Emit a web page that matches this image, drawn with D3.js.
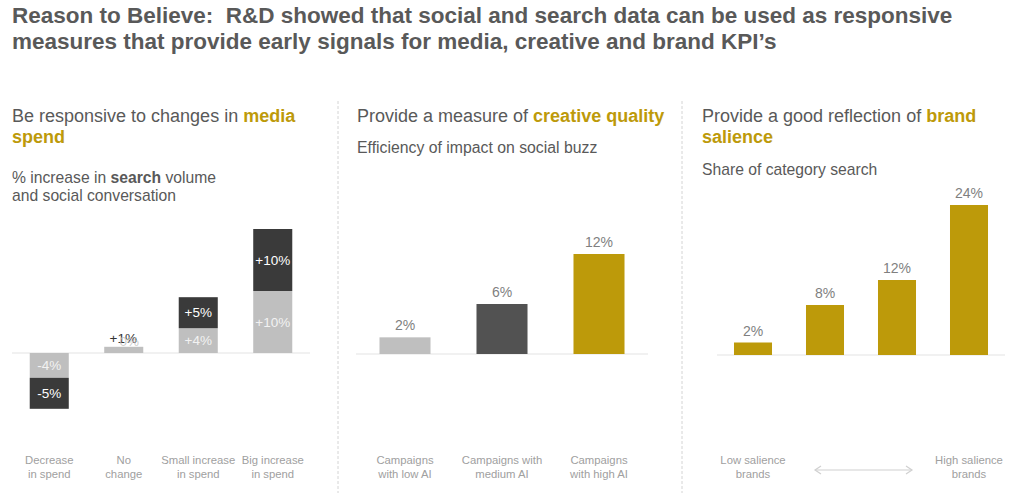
<!DOCTYPE html>
<html><head><meta charset="utf-8">
<script src="https://cdn.jsdelivr.net/npm/d3@7"></script>
<style>body{margin:0;background:#fff}svg{display:block;font-family:"Liberation Sans",Arial,sans-serif}</style>
</head><body>
<svg id="c" width="1024" height="493"></svg>
<script>
// ---- data ----
const titleLines = ["Reason to Believe:\u00a0 R&D showed that social and search data can be used as responsive",
                    "measures that provide early signals for media, creative and brand KPI\u2019s"];

const spendCats = [["Decrease","in spend"],["No","change"],["Small increase","in spend"],["Big increase","in spend"]];
const searchValues = [-4, 1, 4, 10];          // light grey segment
const searchLabels = ["-4%", "0%", "+4%", "+10%"];
const socialValues = [-5, 0, 5, 10];          // dark segment
const socialLabels = ["-5%", "+1%", "+5%", "+10%"];

const creativeCats = [["Campaigns","with low AI"],["Campaigns with","medium AI"],["Campaigns","with high AI"]];
const creativeValues = [2, 6, 12];
const creativeLabels = ["2%", "6%", "12%"];

const brandCats = ["b1","b2","b3","b4"];
const brandValues = [2, 8, 12, 24];
const brandLabels = ["2%", "8%", "12%", "24%"];
const brandAxisLabels = [["Low salience","brands"],["High salience","brands"]];

const GOLD = "#bd9a0a", TXT = "#595959", CAT = "#a0a0a0", LIGHT = "#bfbfbf", DARK = "#3a3a3a";

const svg = d3.select("#c");

// ---- title ----
svg.append("g").selectAll("text").data(titleLines).join("text")
  .attr("x", 12).attr("y", (d,i) => 23 + i*26)
  .attr("font-size", 22.5).attr("font-weight", "bold").attr("fill", TXT).text(d => d);

// dividers
[338, 682].forEach(x => svg.append("line").attr("x1", x).attr("x2", x).attr("y1", 101).attr("y2", 493)
  .attr("stroke", "#d4d4d4").attr("stroke-width", 1).attr("stroke-dasharray", "3,2"));

function rich(g, x, y, parts, size) {
  const t = g.append("text").attr("x", x).attr("y", y).attr("font-size", size).attr("fill", TXT);
  parts.forEach(p => t.append("tspan").text(p[0])
    .attr("font-weight", p[1] ? "bold" : null).attr("fill", p[2] || null));
}

// headings
rich(svg, 12, 122, [["Be responsive to changes in "], ["media", true, GOLD]], 18);
rich(svg, 12, 143, [["spend", true, GOLD]], 18);
rich(svg, 12, 183, [["% increase in "], ["search", true], [" volume"]], 15.7);
rich(svg, 12, 201, [["and social conversation"]], 15.7);

rich(svg, 357, 122, [["Provide a measure of "], ["creative quality", true, GOLD]], 18);
rich(svg, 357, 153, [["Efficiency of impact on social buzz"]], 15.8);

rich(svg, 702, 122, [["Provide a good reflection of "], ["brand", true, GOLD]], 18);
rich(svg, 702, 143, [["salience", true, GOLD]], 18);
rich(svg, 702, 175, [["Share of category search"]], 15.7);

function catLabels(g, x, lines) {
  const t = g.append("text").attr("text-anchor", "middle").attr("font-size", 11.3).attr("fill", CAT);
  lines.forEach((l, i) => t.append("tspan").attr("x", x).attr("y", 464 + i*14).text(l));
}

// ---- panel 1: stacked ----
{
  const idx = d3.range(spendCats.length);
  const x = d3.scaleBand().domain(idx).range([12, 310]).paddingInner(0.476).paddingOuter(0.238);
  const y = d3.scaleLinear().domain([-10, 20]).range([415, 229]);
  const g = svg.append("g");
  g.append("line").attr("x1", 12).attr("x2", 310).attr("y1", y(0)).attr("y2", y(0)).attr("stroke", "#e3e3e3");
  idx.forEach(i => {
    const a = searchValues[i], b = socialValues[i];
    const cx = x(i) + x.bandwidth()/2;
    g.append("rect").attr("x", x(i)).attr("width", x.bandwidth())
      .attr("y", y(Math.max(0, a))).attr("height", Math.abs(y(a) - y(0))).attr("fill", LIGHT);
    const s0 = a, s1 = a + b;
    if (b !== 0) g.append("rect").attr("x", x(i)).attr("width", x.bandwidth())
      .attr("y", y(Math.max(s0, s1))).attr("height", Math.abs(y(s1) - y(s0))).attr("fill", DARK);
    const hA = Math.abs(y(a) - y(0));
    if (hA > 14) {
      g.append("text").attr("x", cx).attr("y", (y(a) + y(0))/2 + 4.5).attr("text-anchor", "middle")
        .attr("font-size", 13.5).attr("fill", "#f2f2f2").text(searchLabels[i]);
      g.append("text").attr("x", cx).attr("y", (y(s0) + y(s1))/2 + 4.5).attr("text-anchor", "middle")
        .attr("font-size", 13.5).attr("fill", "#ffffff").text(socialLabels[i]);
    } else {
      g.append("text").attr("x", cx - 0.5).attr("y", y(a) - 4).attr("text-anchor", "middle")
        .attr("font-size", 13.5).attr("fill", "#333").text(socialLabels[i]);
      g.append("text").attr("x", cx + 5.5).attr("y", y(a) - 1).attr("text-anchor", "middle")
        .attr("font-size", 13.5).attr("fill", "#c4c4c4").attr("fill-opacity", 0.85).text(searchLabels[i]);
    }
    catLabels(g, cx, spendCats[i]);
  });
}

// ---- panel 2 ----
{
  const idx = d3.range(creativeCats.length);
  const colors = [LIGHT, "#525252", GOLD];
  const x = d3.scaleBand().domain(idx).range([356.5, 647.5]).paddingInner(0.474).paddingOuter(0.237);
  const y = d3.scaleLinear().domain([0, 12]).range([354, 254]);
  const g = svg.append("g");
  g.append("line").attr("x1", 356).attr("x2", 648).attr("y1", y(0)).attr("y2", y(0)).attr("stroke", "#e3e3e3");
  g.selectAll("rect").data(creativeValues).join("rect")
    .attr("x", (d,i) => x(i)).attr("width", x.bandwidth())
    .attr("y", d => y(d)).attr("height", d => y(0) - y(d)).attr("fill", (d,i) => colors[i]);
  g.selectAll("text.v").data(creativeValues).join("text").attr("class", "v")
    .attr("x", (d,i) => x(i) + x.bandwidth()/2).attr("y", d => y(d) - 7)
    .attr("text-anchor", "middle").attr("font-size", 14).attr("fill", "#7f7f7f")
    .text((d,i) => creativeLabels[i]);
  idx.forEach(i => catLabels(g, x(i) + x.bandwidth()/2, creativeCats[i]));
}

// ---- panel 3 ----
{
  const x = d3.scaleBand().domain(brandCats).range([717, 1005]).paddingInner(0.472).paddingOuter(0.236);
  const y = d3.scaleLinear().domain([0, 24]).range([355, 205]);
  const g = svg.append("g");
  g.append("line").attr("x1", 717).attr("x2", 1005).attr("y1", y(0)).attr("y2", y(0)).attr("stroke", "#e3e3e3");
  g.selectAll("rect").data(brandValues).join("rect")
    .attr("x", (d,i) => x(brandCats[i])).attr("width", x.bandwidth())
    .attr("y", d => y(d)).attr("height", d => y(0) - y(d)).attr("fill", GOLD);
  g.selectAll("text.v").data(brandValues).join("text").attr("class", "v")
    .attr("x", (d,i) => x(brandCats[i]) + x.bandwidth()/2).attr("y", d => y(d) - 7)
    .attr("text-anchor", "middle").attr("font-size", 14).attr("fill", "#7f7f7f")
    .text((d,i) => brandLabels[i]);
  const c0 = x(brandCats[0]) + x.bandwidth()/2, c3 = x(brandCats[3]) + x.bandwidth()/2;
  catLabels(g, c0, brandAxisLabels[0]);
  catLabels(g, c3, brandAxisLabels[1]);
  const ay = 470, ax1 = 815, ax2 = 912;
  g.append("line").attr("x1", ax1).attr("x2", ax2).attr("y1", ay).attr("y2", ay).attr("stroke", "#d0d0d0").attr("stroke-width", 1.2);
  g.append("path").attr("d", `M${ax1+6},${ay-4}L${ax1},${ay}L${ax1+6},${ay+4}M${ax2-6},${ay-4}L${ax2},${ay}L${ax2-6},${ay+4}`)
    .attr("fill", "none").attr("stroke", "#d0d0d0").attr("stroke-width", 1.2);
}
</script>
</body></html>
